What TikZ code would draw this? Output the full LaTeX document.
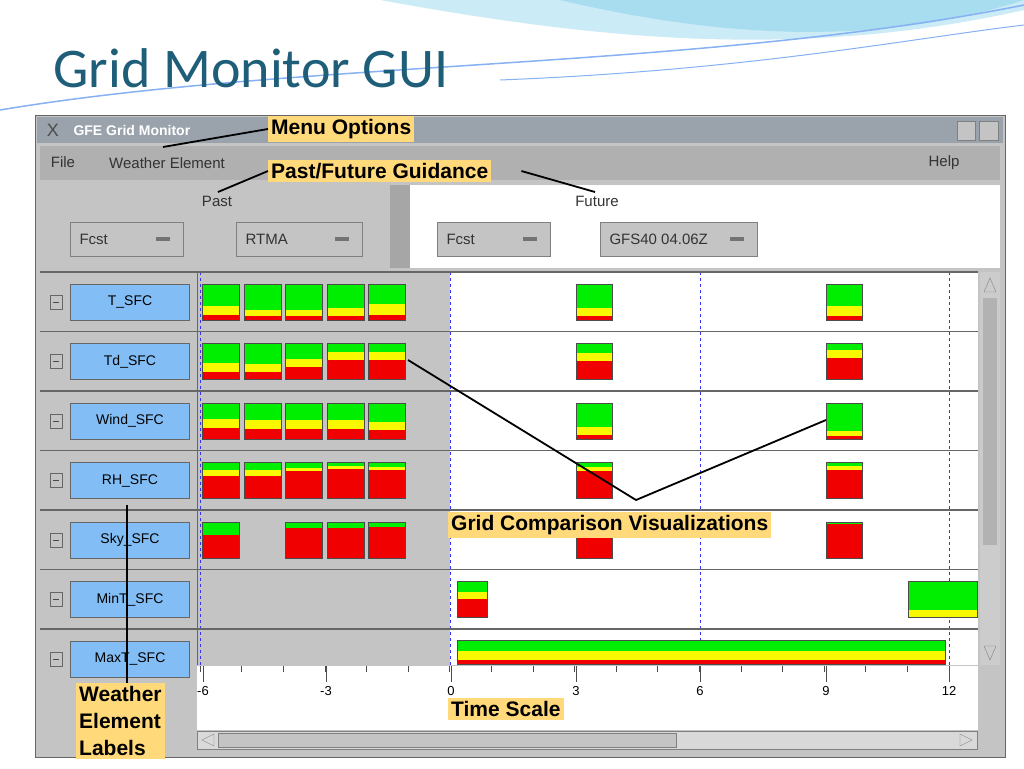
\documentclass[tikz,border=0pt]{standalone}
\usepackage{fontspec}
\setmainfont{Liberation Sans}
\newfontfamily\titlefont{Carlito}
\usetikzlibrary{positioning}
\definecolor{gGreen}{HTML}{00EE00}
\definecolor{gYellow}{HTML}{F8F800}
\definecolor{gRed}{HTML}{F00000}
\definecolor{winGrey}{HTML}{C4C4C4}
\definecolor{barGrey}{HTML}{9AA3AB}
\definecolor{lblBlue}{HTML}{82BEF5}
\definecolor{noteYellow}{HTML}{FFD97A}
\definecolor{titleTeal}{HTML}{1E5E78}
\definecolor{swoosh}{HTML}{A8DDF0}
\tikzset{
  boxline/.style={draw=black!70, line width=0.8pt},
  note/.style={fill=noteYellow, inner sep=3pt, font=\fontsize{21}{27}\selectfont\bfseries, anchor=north west},
  guitext/.style={font=\fontsize{15}{17}\selectfont, text=black!80},
  combo/.style={draw=black!50, fill=winGrey, line width=1pt},
  elabel/.style={draw=black!60, fill=lblBlue, minimum width=119pt, minimum height=36pt, font=\fontsize{14}{16}\selectfont},
  pointer/.style={black, line width=1.8pt},
  tick/.style={font=\fontsize{13}{15}\selectfont}
}
% one grid box: x, top, width, green and yellow heights
\newcommand{\gbox}[5]{%
  \fill[gGreen] (#1,#2) rectangle ++(#3,#4);
  \fill[gYellow] (#1,#2+#4) rectangle ++(#3,#5);
  \fill[gRed] (#1,#2+#4+#5) rectangle (#1+#3,#2+36);
  \draw[boxline] (#1,#2) rectangle ++(#3,36);}
\begin{document}
\begin{tikzpicture}[x=1pt,y=-1pt]
\useasboundingbox (0,0) rectangle (1024,768);
\fill[white] (0,0) rectangle (1024,768);
% header decoration
\fill[swoosh!60] (380,0) .. controls (600,40) and (800,60) .. (1024,10) -- (1024,0) -- cycle;
\fill[swoosh] (560,0) .. controls (750,45) and (900,40) .. (1024,0) -- cycle;
\draw[swoosh!80!blue, line width=1.5pt] (0,110) .. controls (300,60) and (700,70) .. (1024,5);
\draw[swoosh!80!blue, line width=1pt] (500,80) .. controls (750,70) and (900,40) .. (1024,25);
\node[anchor=west, text=titleTeal, font=\titlefont\fontsize{56}{60}\selectfont] (title) at (50,68) {Grid Monitor GUI};
% window
\draw[fill=winGrey, draw=black!60, line width=1pt] (35,115) rectangle (1005,757);
\fill[barGrey] (37,117) rectangle (1003,143);
\node[anchor=west, text=white, font=\fontsize{14}{16}\selectfont\bfseries] (wintitle) at (70,130) {GFE Grid Monitor};
\node[font=\fontsize{18}{18}\selectfont, text=black!70] (xicon) at (53,130) {X};
\draw[fill=winGrey, draw=black!50] (957,121) rectangle (975,140);
\draw[fill=winGrey, draw=black!50] (979,121) rectangle (998,140);
% menu bar
\fill[winGrey!90!black] (40,146) rectangle (1000,180);
\node[guitext] (mfile) at (63,162) {File};
\node[guitext] (mweather) at (167,163) {Weather Element};
\node[guitext] (mhelp) at (944,163) {Help};
% past / future panel
\fill[winGrey] (42,185) rectangle (390,268);
\fill[black!35] (390,185) rectangle (410,268);
\fill[white] (410,185) rectangle (1000,268);
\node[guitext] (past) at (217,201) {Past};
\node[guitext] (future) at (597,201) {Future};
\foreach \a/\b/\t in {70/183/Fcst, 236/362/RTMA, 437/550/Fcst, 600/757/GFS40 04.06Z} {
  \draw[combo] (\a,222) rectangle (\b,256);
  \node[guitext, anchor=west] at (\a+6,239) {\t};
  \fill[black!55] (\b-27,237) rectangle (\b-13,241);
}
% grid area
\fill[winGrey] (40,272) rectangle (450,665);
\fill[white] (450,272) rectangle (978,665);
\fill[black!20] (980,272) rectangle (1000,665);
\draw[black!50] (984,292) -- (996,292) -- (990,278) -- cycle;
\draw[black!50] (984,646) -- (996,646) -- (990,660) -- cycle;
\fill[black!30] (983,298) rectangle (997,545);
\foreach \x in {200,450,700,949}
  \draw[blue!80, dashed, line width=0.8pt] (\x,272) -- (\x,665);
\foreach \i in {0,...,6}
  \draw[black!60, line width=1.5pt] (40,272+59.5*\i) -- (978,272+59.5*\i);
\draw[black!60, line width=1pt] (197,272) -- (197,665);
% element labels
\foreach \n [count=\i] in {T\_SFC, Td\_SFC, Wind\_SFC, RH\_SFC, Sky\_SFC, MinT\_SFC, MaxT\_SFC} {
  \node[elabel] (lab\i) at (130,302+59.5*\i-59.5) {\n};
  \draw[fill=winGrey, draw=black!60] (50,295+59.5*\i-59.5) rectangle (62,309+59.5*\i-59.5);
  \draw[black!70] (53,302+59.5*\i-59.5) -- (59,302+59.5*\i-59.5);
}
% grid boxes
\foreach \x/\g/\yy in {202/22/9, 244/26/6, 285/26/6, 327/24/8, 368/20/11} \gbox{\x}{284}{37}{\g}{\yy};
\gbox{576}{284}{36}{24}{8} \gbox{826}{284}{36}{22}{10}
\foreach \x/\g/\yy in {202/20/9, 244/21/8, 285/16/8, 327/9/8, 368/9/8} \gbox{\x}{343}{37}{\g}{\yy};
\gbox{576}{343}{36}{10}{8} \gbox{826}{343}{36}{7}{8}
\foreach \x/\g/\yy in {202/16/9, 244/17/9, 285/17/9, 327/17/9, 368/19/8} \gbox{\x}{403}{37}{\g}{\yy};
\gbox{576}{403}{36}{24}{8} \gbox{826}{403}{36}{28}{5}
\foreach \x/\g/\yy in {202/8/6, 244/8/6, 285/6/3, 327/4/3, 368/5/3} \gbox{\x}{462}{37}{\g}{\yy};
\gbox{576}{462}{36}{5}{4} \gbox{826}{462}{36}{4}{4}
\foreach \x/\g in {202/13, 285/6, 327/6, 368/5} \gbox{\x}{522}{37}{\g}{0};
\gbox{576}{522}{36}{3}{0} \gbox{826}{522}{36}{2}{0}
\gbox{457}{581}{30}{11}{7} \gbox{908}{581}{69}{29}{7}
\fill[gGreen] (457,640) rectangle (945,651);
\fill[gYellow] (457,651) rectangle (945,660);
\fill[gRed] (457,660) rectangle (945,664);
\draw[boxline] (457,640) rectangle (945,664);
% time axis
\fill[white] (197,666) rectangle (978,730);
\foreach \h in {-6,...,12}
  \draw[black!70] (200+41.6*\h+249.6,666) -- (200+41.6*\h+249.6,672);
\foreach \h/\x in {-6/203, -3/326, 0/451, 3/576, 6/700, 9/826, 12/949} {
  \draw[black!70] (\x,666) -- (\x,682);
  \node[tick] at (\x,691) {\h};
}
\draw[fill=black!15, draw=black!50] (197,731) rectangle (977,749);
\draw[fill=winGrey, draw=black!50] (218,733) rectangle (676,747);
\draw[black!50] (214,734) -- (214,746) -- (202,740) -- cycle;
\draw[black!50] (960,734) -- (960,746) -- (972,740) -- cycle;
% annotations
\node[note] (nmenu) at (268,116) {Menu Options};
\node[note] (nguide) at (268,160) {Past/Future Guidance};
\node[note] (ngrid) at (448,512) {Grid Comparison Visualizations};
\node[note, align=left] (nlabels) at (76,683) {Weather\\Element\\Labels};
\node[note] (ntime) at (448,698) {Time Scale};
\coordinate (pmenu) at (163,147);
\coordinate (ppast) at (218,192);
\coordinate (pfuture) at (595,192);
\coordinate (ptd) at (408,360);
\coordinate (pwind) at (826,420);
\coordinate (pbend) at (636,500);
\coordinate (psky) at (127,505);
\draw[pointer] (pmenu) -- (nmenu.west);
\draw[pointer] (ppast) -- (nguide.west);
\draw[pointer] (nguide.east) ++(30,0) -- (pfuture);
\draw[pointer] (ptd) -- (pbend) -- (pwind);
\draw[pointer] (psky) -- (127,683);
\end{tikzpicture}
\end{document}
